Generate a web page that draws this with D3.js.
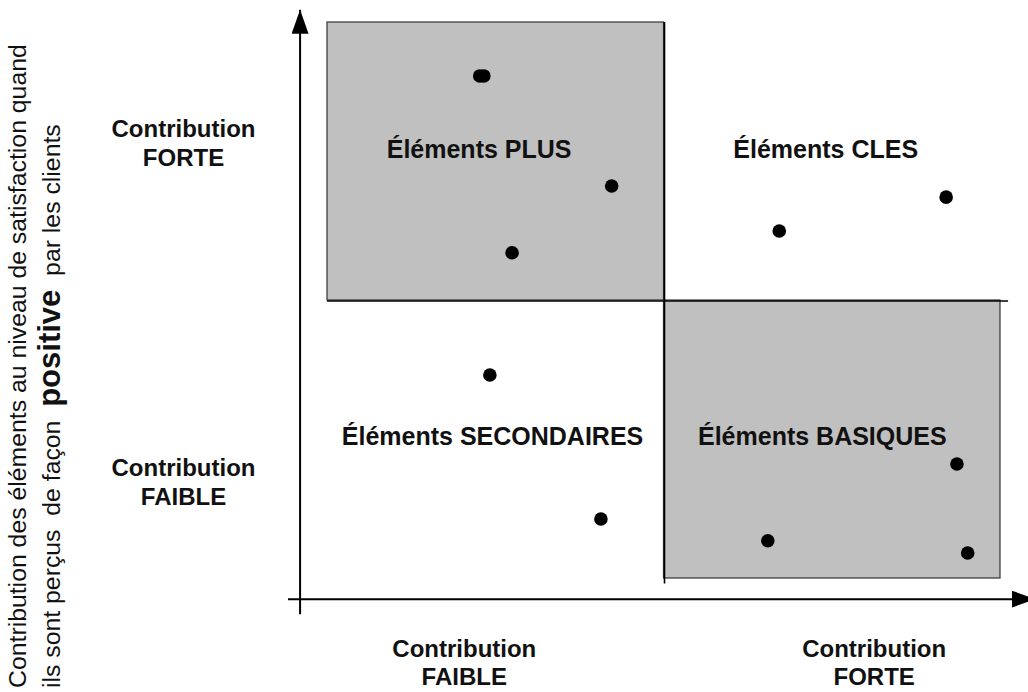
<!DOCTYPE html>
<html lang="fr">
<head>
<meta charset="UTF-8">
<style>
  body { margin: 0; background: #fff; }
  text { font-family: "Liberation Sans", Arial, sans-serif; }
</style>
</head>
<body>
<script src="https://d3js.org/d3.v7.min.js"></script>
<script>
// quadrants (data units 0..100 on both axes)
var quadNames = ['Éléments PLUS', 'Éléments CLES', 'Éléments SECONDAIRES', 'Éléments BASIQUES']
var quadX0 = [0, 50, 0, 50]
var quadY0 = [50, 50, 0, 0]
var quadShaded = [true, false, false, true]

// points
var ptX = [22.7, 23.3, 42.3, 27.5, 67.2, 92.0, 24.2, 40.7, 93.6, 65.5, 95.2]
var ptY = [90.3, 90.3, 70.5, 58.5, 62.4, 68.5, 36.5, 10.6, 20.5, 6.7, 4.5]

// level labels (low, high)
var levelTop = ['Contribution', 'Contribution']
var levelBottom = ['FAIBLE', 'FORTE']

var yTitle1 = 'Contribution des éléments au niveau de satisfaction quand'
var yTitle2 = ['ils sont perçus  de façon  ', 'positive', '  par les clients']

var svgWidth = 1028, svgHeight = 692

var svg = d3.select('body').append('svg')
    .attr('width', svgWidth)
    .attr('height', svgHeight)

var xScale = d3.scaleLinear().domain([0, 100]).range([327, 1000])
var yScale = d3.scaleLinear().domain([0, 100]).range([578, 22])

// arrow marker
var defs = svg.append('defs')
defs.append('marker')
    .attr('id', 'arr')
    .attr('viewBox', '0 0 24 17')
    .attr('refX', 24).attr('refY', 8.5)
    .attr('markerWidth', 24).attr('markerHeight', 17)
    .attr('markerUnits', 'userSpaceOnUse')
    .attr('orient', 'auto')
    .append('path')
    .attr('d', 'M0,0 L24,8.5 L0,17 Z')
    .attr('fill', '#000')

var quads = quadNames.map(function (n, i) {
    return { name: n, x0: quadX0[i], y0: quadY0[i], shaded: quadShaded[i] }
})

// shaded quadrants
svg.selectAll('rect.quad')
    .data(quads.filter(function (d) { return d.shaded }))
    .enter().append('rect')
    .attr('class', 'quad')
    .attr('x', function (d) { return xScale(d.x0) })
    .attr('y', function (d) { return yScale(d.y0 + 50) })
    .attr('width', function (d) { return xScale(d.x0 + 50) - xScale(d.x0) })
    .attr('height', function (d) { return yScale(d.y0) - yScale(d.y0 + 50) })
    .attr('fill', '#c0c0c0')
    .attr('stroke', '#333')
    .attr('stroke-width', 1.2)

// divider lines
svg.append('line')
    .attr('x1', xScale(50) + 1).attr('x2', xScale(50) + 1)
    .attr('y1', yScale(100)).attr('y2', yScale(-1))
    .attr('stroke', '#000').attr('stroke-width', 1.6)
svg.append('line')
    .attr('x1', xScale(0)).attr('x2', xScale(101.2))
    .attr('y1', yScale(50) + 1).attr('y2', yScale(50) + 1)
    .attr('stroke', '#000').attr('stroke-width', 1.6)

// axes
svg.append('line')
    .attr('x1', xScale(-4)).attr('x2', xScale(-4))
    .attr('y1', yScale(-6.5)).attr('y2', yScale(102.2))
    .attr('stroke', '#000').attr('stroke-width', 2)
    .attr('marker-end', 'url(#arr)')
svg.append('line')
    .attr('x1', xScale(-5.8)).attr('x2', xScale(105.3))
    .attr('y1', yScale(-3.8)).attr('y2', yScale(-3.8))
    .attr('stroke', '#000').attr('stroke-width', 2)
    .attr('marker-end', 'url(#arr)')

// quadrant labels: centre x, baseline y (data units)
var qlx = [22.6, 74.1, 24.6, 73.6]
var qly = [75.6, 75.6, 23.9, 23.9]
svg.selectAll('text.ql')
    .data(quads)
    .enter().append('text')
    .attr('class', 'ql')
    .attr('x', function (d, i) { return xScale(qlx[i]) })
    .attr('y', function (d, i) { return yScale(qly[i]) })
    .attr('text-anchor', 'middle')
    .attr('font-size', 25)
    .attr('font-weight', 'bold')
    .attr('fill', '#111')
    .text(function (d) { return d.name })

// points
svg.selectAll('circle.pt')
    .data(ptX.map(function (v, i) { return [v, ptY[i]] }))
    .enter().append('circle')
    .attr('class', 'pt')
    .attr('cx', function (d) { return xScale(d[0]) })
    .attr('cy', function (d) { return yScale(d[1]) })
    .attr('r', 6.8)
    .attr('fill', '#000')

// left level labels (y axis)
var leftY = [yScale(18.3), yScale(79.4)]
levelBottom.forEach(function (b, i) {
    var t = svg.append('text')
        .attr('text-anchor', 'middle')
        .attr('font-size', 24)
        .attr('font-weight', 'bold')
        .attr('fill', '#111')
    t.append('tspan').attr('x', 183.5).attr('y', leftY[i]).text(levelTop[i])
    t.append('tspan').attr('x', 183.5).attr('dy', 29).text(b)
})

// bottom level labels (x axis)
var bottomX = [xScale(20.4), xScale(81.3)]
levelBottom.forEach(function (b, i) {
    var t = svg.append('text')
        .attr('text-anchor', 'middle')
        .attr('font-size', 24)
        .attr('font-weight', 'bold')
        .attr('fill', '#111')
    t.append('tspan').attr('x', bottomX[i]).attr('y', 657).text(levelTop[i])
    t.append('tspan').attr('x', bottomX[i]).attr('dy', 28).text(b)
})

// y axis title
svg.append('text')
    .attr('transform', 'translate(26,688) rotate(-90)')
    .attr('font-size', 24.8)
    .attr('fill', '#111')
    .text(yTitle1)

var l2 = svg.append('text')
    .attr('transform', 'translate(60,688) rotate(-90)')
    .attr('font-size', 24.8)
    .attr('fill', '#111')
    .style('white-space', 'pre')
l2.selectAll('tspan')
    .data(yTitle2)
    .enter().append('tspan')
    .attr('font-weight', function (d, i) { return i == 1 ? 'bold' : null })
    .attr('font-size', function (d, i) { return i == 1 ? 31 : null })
    .text(function (d) { return d })
</script>
</body>
</html>
